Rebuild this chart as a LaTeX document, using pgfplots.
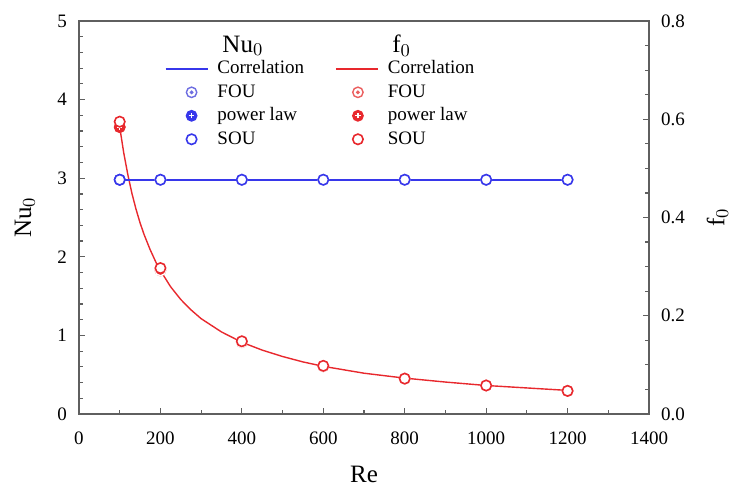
\documentclass[border=0pt]{standalone}
\usepackage{pgfplots}
\pgfplotsset{compat=1.18}
\usepackage{fontspec}
\setmainfont{Liberation Serif}
\usetikzlibrary{calc}
\definecolor{cblue}{RGB}{55,55,235}
\definecolor{cred}{RGB}{232,40,45}
\definecolor{cfoub}{RGB}{110,110,225}
\definecolor{cfour}{RGB}{235,95,95}
\definecolor{axgray}{RGB}{95,95,95}
\pgfdeclareplotmark{fou}{%
  \pgfpathcircle{\pgfpointorigin}{\pgfplotmarksize}\pgfusepathqfillstroke
  \pgfpathcircle{\pgfpointorigin}{0.22\pgfplotmarksize}\pgfusepathqstroke}
\pgfdeclareplotmark{pow}{%
  \pgfpathcircle{\pgfpointorigin}{\pgfplotmarksize}\pgfusepathqfillstroke
  \pgfsetstrokecolor{white}\pgfsetlinewidth{0.7pt}%
  \pgfpathmoveto{\pgfpoint{-0.5\pgfplotmarksize}{0pt}}%
  \pgfpathlineto{\pgfpoint{0.5\pgfplotmarksize}{0pt}}\pgfusepathqstroke
  \pgfpathmoveto{\pgfpoint{0pt}{-0.5\pgfplotmarksize}}%
  \pgfpathlineto{\pgfpoint{0pt}{0.5\pgfplotmarksize}}\pgfusepathqstroke}
\pgfplotsset{
  legline/.style={legend image code/.code={\draw[##1] (0pt,0pt) -- (21pt,0pt);}},
  legmark/.style={legend image code/.code={\path (0pt,0pt) (21pt,0pt); \draw[##1] plot coordinates {(#1,0pt)};}},
  common/.style={
    scale only axis, width=285pt, height=196.5pt,
    axis line style={axgray, line width=0.7pt},
    tick style={axgray, line width=0.6pt},
    major tick length=3pt, minor tick length=2pt,
    tick align=inside,
    tick label style={font=\rmfamily\fontsize{9.5}{11}\selectfont},
    /pgf/number format/assume math mode=true,
    /pgf/number format/1000 sep={},
    label style={font=\rmfamily\fontsize{12.5}{14}\selectfont},
  },
  plain/.style={scale only axis, width=285pt, height=196.5pt, hide axis},
}

\pgfplotstableread{
Re f
100 0.584
110 0.531
120 0.487
130 0.449
140 0.417
150 0.389
160 0.365
175 0.334
190 0.307
200 0.292
225 0.259
250 0.233
275 0.212
300 0.194
350 0.167
400 0.146
450 0.130
500 0.117
550 0.106
600 0.097
700 0.083
800 0.073
900 0.065
1000 0.058
1100 0.053
1200 0.048
}\fcorr

\pgfplotstableread{
Re Nu
100 2.98
1200 2.98
}\nucorr

\pgfplotstableread{
Re Nu
100 2.98
200 2.98
400 2.98
600 2.98
800 2.98
1000 2.98
1200 2.98
}\nupts

\pgfplotstableread{
Re f
100 0.584
200 0.292
400 0.146
600 0.097
800 0.072
1000 0.058
1200 0.047
}\ffou

\pgfplotstableread{
Re f
100 0.584
200 0.292
400 0.146
600 0.097
800 0.072
1000 0.058
1200 0.047
}\fpow

\pgfplotstableread{
Re f
100 0.595
200 0.297
400 0.148
600 0.098
800 0.072
1000 0.058
1200 0.047
}\fsou

\begin{document}
\begin{tikzpicture}
% frame, left and bottom axes
\begin{axis}[common,
  xmin=0, xmax=1400, ymin=0, ymax=5,
  xtick={0,200,...,1400}, minor x tick num=1,
  ytick={0,1,...,5}, minor y tick num=4,
  xtick pos=bottom, ytick pos=left,
  xticklabel style={yshift=-5.5pt},
  yticklabel style={xshift=-2.5pt},
  xlabel={Re}, ylabel={Nu$_0$},
  xlabel style={at={(axis description cs:0.5,-0.155)}, anchor=center},
  ylabel style={at={(axis description cs:-0.095,0.5)}, anchor=center},
]
\coordinate (bl) at (rel axis cs:0,0);
\coordinate (tr) at (rel axis cs:1,1);
\end{axis}
% right axis with f0 data
\begin{axis}[common,
  xmin=0, xmax=1400, ymin=0, ymax=0.8,
  axis x line=none, axis y line*=right,
  ytick={0,0.2,...,0.8}, minor y tick num=3,
  yticklabel style={/pgf/number format/.cd, fixed, fixed zerofill, precision=1, /tikz/.cd, xshift=2.5pt},
  ylabel={f$_0$},
  ylabel style={at={(axis description cs:1.12,0.5)}, anchor=center},
]
\addplot[draw=cred, line width=0.7pt] table[x=Re,y=f] {\fcorr};
\addplot[only marks, draw=none, mark=fou, mark size=2.6pt, mark options={draw=cfour, fill=white, line width=0.7pt}] table[x=Re,y=f] {\ffou};
\addplot[only marks, draw=none, mark=pow, mark size=2.6pt, mark options={draw=cred, fill=cred, line width=0.7pt}] table[x=Re,y=f] {\fpow};
\addplot[only marks, draw=none, mark=*, mark size=2.6pt, mark options={draw=cred, fill=white, line width=0.8pt}] table[x=Re,y=f] {\fsou};
\end{axis}
% Nu0 data and legend
\begin{axis}[plain,
  xmin=0, xmax=1400, ymin=0, ymax=5,
  legend columns=2, legend cell align=left,
  legend style={draw=none, fill=none, inner sep=0pt, at={(rel axis cs:0.150,0.908)}, anchor=north west,
    font=\rmfamily\fontsize{9.5}{11}\selectfont,
    nodes={inner sep=1.6pt}, row sep=0.6pt,
    /tikz/every odd column/.style={column sep=3pt},
    /tikz/every even column/.style={column sep=14pt}},
]
\addplot[only marks, draw=none, mark=fou, mark size=2.6pt, mark options={draw=cfoub, fill=white, line width=0.7pt}, forget plot] table[x=Re,y=Nu] {\nupts};
\addplot[only marks, draw=none, mark=pow, mark size=2.6pt, mark options={draw=cblue, fill=cblue, line width=0.7pt}, forget plot] table[x=Re,y=Nu] {\nupts};
\addplot[draw=cblue, color=cblue, line width=0.75pt, mark=none, forget plot] table[x=Re,y=Nu] {\nucorr};
\addplot[only marks, draw=none, mark=*, mark size=2.6pt, mark options={draw=cblue, fill=white, line width=0.8pt}, forget plot] table[x=Re,y=Nu] {\nupts};

\addlegendimage{draw=cblue, line width=0.7pt, legline}
\addlegendentry{Correlation}
\addlegendimage{draw=cred, line width=0.7pt, legline}
\addlegendentry{Correlation}
\addlegendimage{only marks, draw=none, mark=fou, mark size=2.6pt, mark options={draw=cfoub, fill=white, line width=0.7pt}, legmark=13pt}
\addlegendentry{FOU}
\addlegendimage{only marks, draw=none, mark=fou, mark size=2.6pt, mark options={draw=cfour, fill=white, line width=0.7pt}, legmark=11pt}
\addlegendentry{FOU}
\addlegendimage{only marks, draw=none, mark=pow, mark size=2.6pt, mark options={draw=cblue, fill=cblue, line width=0.7pt}, legmark=13pt}
\addlegendentry{power law}
\addlegendimage{only marks, draw=none, mark=pow, mark size=2.6pt, mark options={draw=cred, fill=cred, line width=0.7pt}, legmark=11pt}
\addlegendentry{power law}
\addlegendimage{only marks, draw=none, mark=*, mark size=2.6pt, mark options={draw=cblue, fill=white, line width=0.8pt}, legmark=13pt}
\addlegendentry{SOU}
\addlegendimage{only marks, draw=none, mark=*, mark size=2.6pt, mark options={draw=cred, fill=white, line width=0.8pt}, legmark=11pt}
\addlegendentry{SOU}
\node[anchor=west, font=\rmfamily\fontsize{12.5}{14}\selectfont, inner sep=0pt] at (rel axis cs:0.251,0.937) {Nu$_0$};
\node[anchor=west, font=\rmfamily\fontsize{12.5}{14}\selectfont, inner sep=0pt] at (rel axis cs:0.549,0.937) {f$_0$};
\end{axis}
\pgfresetboundingbox
\path ($(bl)+(-39.5pt,-37pt)$) rectangle ($(tr)+(42pt,10.5pt)$);
\end{tikzpicture}
\end{document}
